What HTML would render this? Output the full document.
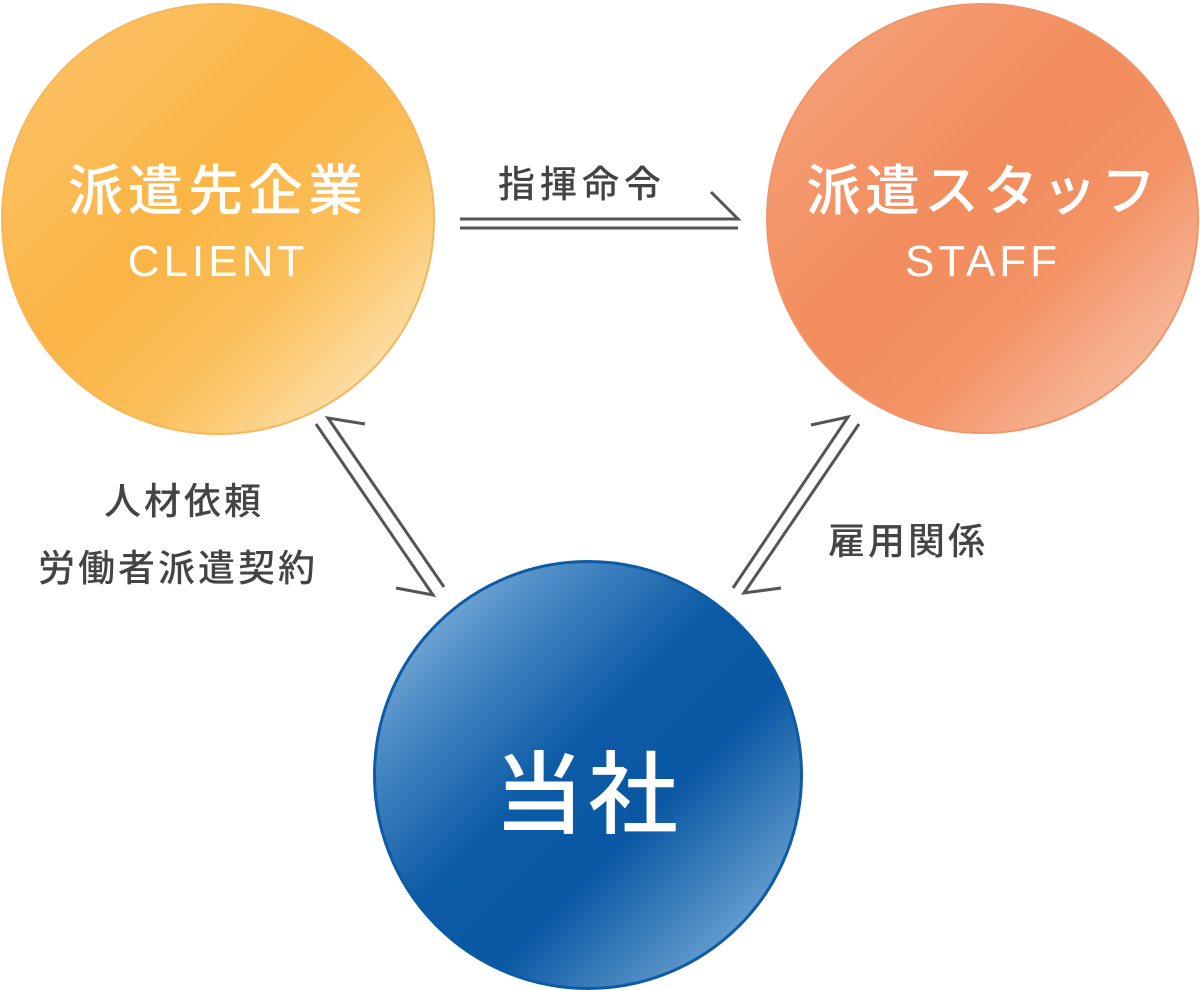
<!DOCTYPE html>
<html><head><meta charset="utf-8"><style>
html,body{margin:0;padding:0;background:#fff;}
body{width:1200px;height:990px;overflow:hidden;position:relative;font-family:"Liberation Sans","Noto Sans CJK JP",sans-serif;}
.c{position:absolute;border-radius:50%;box-sizing:border-box;}
.t{position:absolute;white-space:nowrap;text-align:center;}
.m{font-family:"Noto Sans CJK JP Medium","Noto Sans CJK JP",sans-serif;font-weight:500;}
</style></head><body>
<div class="c" style="left:1px;top:3px;width:434px;height:432px;border:2px solid #f7b65a;background:linear-gradient(135deg,#fcc56c 0%,#fbb445 45%,#fbbf5a 65%,#fde2b0 90%,#fee6bd 100%);"></div>
<div class="c" style="left:766px;top:3px;width:433px;height:431px;border:2px solid #ef956a;background:linear-gradient(135deg,#f6a57e 0%,#f28c5d 45%,#f39366 65%,#f8c1a6 92%,#fad0bb 100%);"></div>
<div class="c" style="left:373px;top:560px;width:430px;height:430px;border:3px solid #0d5aa5;background:linear-gradient(135deg,#a9cbe8 0%,#4d8cc6 22%,#0c5ba6 45%,#0a58a3 62%,#5e98cc 85%,#b4d2ec 100%);"></div>

<div class="t m" style="left:0;width:436px;top:146px;font-size:55px;letter-spacing:5px;color:#fff;">派遣先企業</div>
<div class="t" style="left:0;width:436px;top:237px;font-size:44px;letter-spacing:4px;color:#fff;">CLIENT</div>
<div class="t m" style="left:766px;width:434px;top:146px;font-size:55px;letter-spacing:4px;color:#fff;">派遣スタッフ</div>
<div class="t" style="left:766px;width:434px;top:237px;font-size:44px;letter-spacing:4px;color:#fff;">STAFF</div>
<div class="t m" style="left:373px;width:430px;top:722px;font-size:90px;letter-spacing:4px;color:#fff;">当社</div>

<div class="t m" style="left:498px;top:154px;font-size:37px;letter-spacing:5px;color:#444;">指揮命令</div>
<div class="t m" style="left:104px;top:471px;font-size:37px;letter-spacing:3px;color:#444;">人材依頼</div>
<div class="t m" style="left:38px;top:538px;font-size:37px;letter-spacing:3px;color:#444;">労働者派遣契約</div>
<div class="t m" style="left:828px;top:511px;font-size:37px;letter-spacing:3px;color:#444;">雇用関係</div>

<svg width="1200" height="990" style="position:absolute;left:0;top:0" fill="none" stroke="#555" stroke-width="3">
<path d="M460 219 H738 L711 192"/>
<path d="M460 228 H738"/>
<path d="M365 424 L328 418 L444 587"/>
<path d="M316 424 L433 595 L396 588"/>
<path d="M811 425 L848 417 L733 588"/>
<path d="M859 424 L744 593 L781 588"/>
</svg>
</body></html>
